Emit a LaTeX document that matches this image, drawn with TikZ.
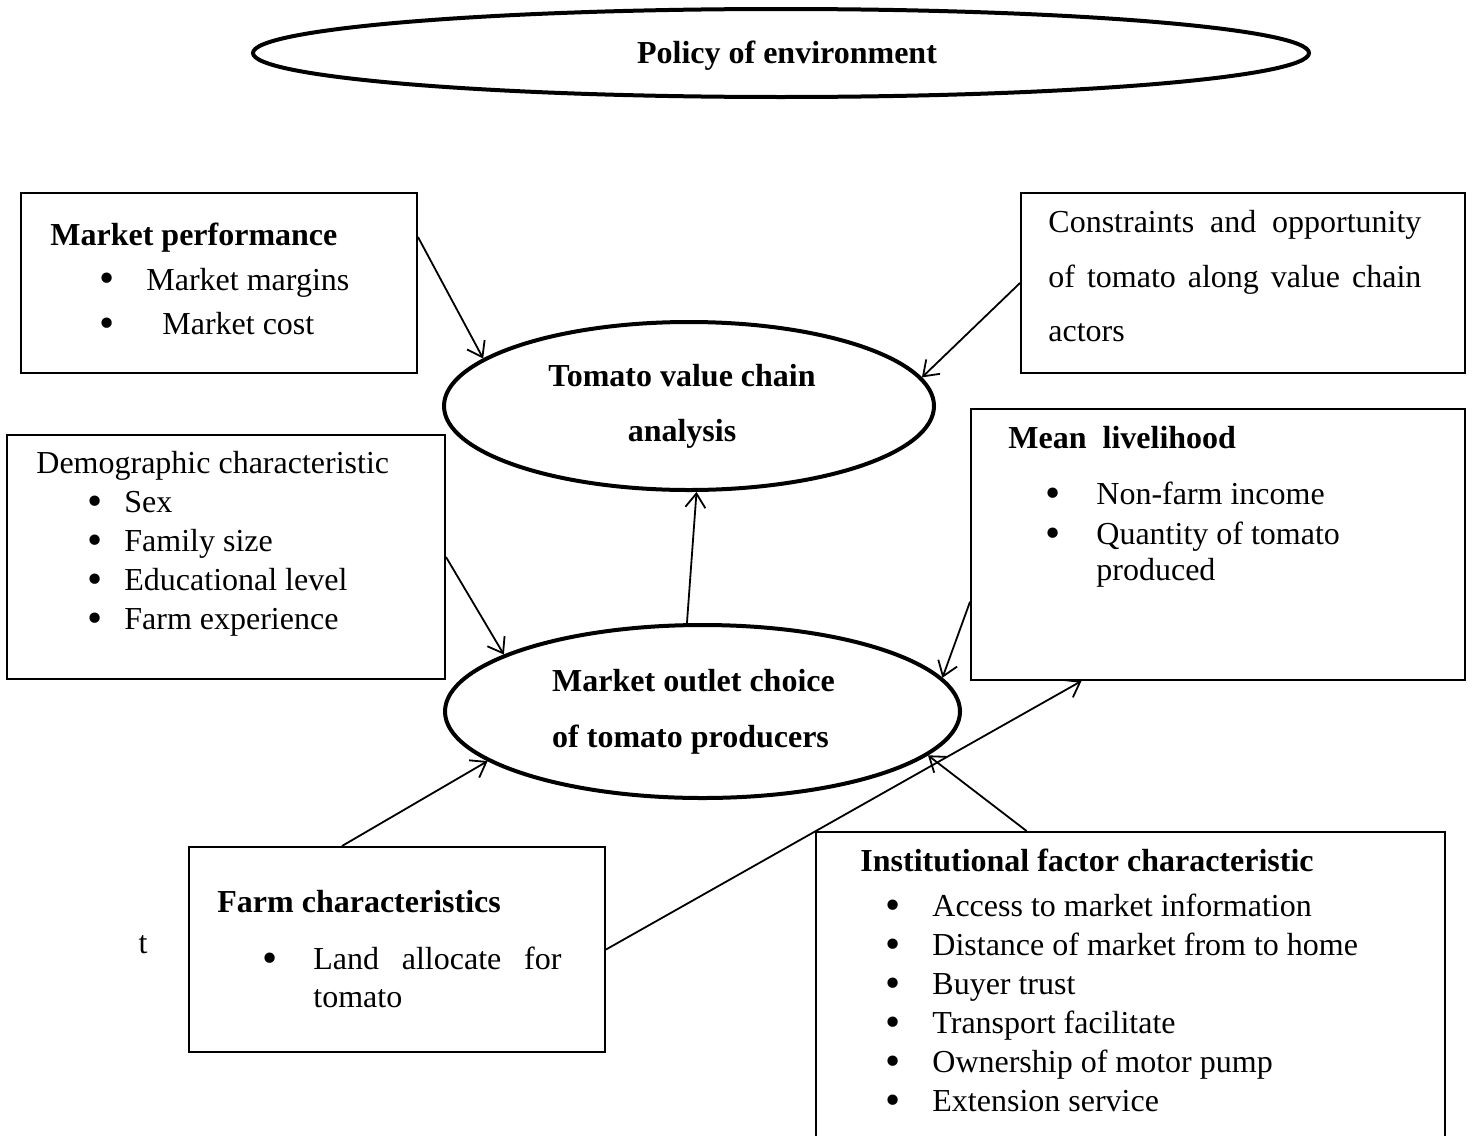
\documentclass[tikz,border=0pt]{standalone}
\usepackage{fontspec}
\setmainfont{Liberation Serif}
\usepackage{graphicx}
\usepackage{tikz}
\usetikzlibrary{shapes.geometric}
\usetikzlibrary{arrows.meta}
\usetikzlibrary{positioning}
\newcommand{\bu}[2]{\makebox[#2][l]{\hspace*{#1}\raisebox{-1.2pt}{\scalebox{1.35}{\textbullet}}}}
\tikzset{
every node/.style={font=\fontsize{16}{19.5}\selectfont},
box/.style={ % Sets the properties for each factor box
draw,
rectangle,
line width=1pt,
inner sep=0pt},
oval/.style={ % Thick ellipses for the main concepts
draw,
ellipse,
line width=2pt,
inner sep=0pt,
font=\bfseries\fontsize{16}{19.5}\selectfont},
txt/.style={anchor=north west, inner sep=0pt, align=left},
link/.style={ % Sets the properties for each connector
draw,
line width=0.9pt,
-{Straight Barb[length=7pt,width=10pt]}}}
\begin{document}
\begin{tikzpicture}[x=0.5pt, y=-0.5pt]
\useasboundingbox (0,0) rectangle (1476,1135);
\node[oval, minimum width=528pt, minimum height=44pt, text height=11pt, text depth=0.5pt] (pe) at (781,53) {\hspace*{6pt}Policy of environment};
\node[oval, minimum width=245pt, minimum height=84pt, align=center] (tvc) at (689,406) {Tomato value chain\hspace*{7pt}\\[8pt]analysis\hspace*{7pt}};
\node[oval, minimum width=257.5pt, minimum height=86.5pt, align=left] (mo) at (702.5,711.5) {Market outlet choice\hspace*{9pt}\\[8.5pt]of tomato producers};

\node[box, minimum width=198pt, minimum height=90pt] (mp) at (219,283) {};
\node[box, minimum width=222pt, minimum height=90pt] (co) at (1243,283) {};
\node[box, minimum width=219pt, minimum height=122pt] (dg) at (226,557) {};
\node[box, minimum width=247pt, minimum height=135.5pt] (ml) at (1218,544.5) {};
\node[box, minimum width=208pt, minimum height=102.5pt] (fc) at (397,949.5) {};
\node[box, minimum width=314.5pt, minimum height=159pt] (ins) at (1130.5,991) {};

\node[txt] (mptext) at (50,218) {\strut\textbf{Market performance}\\[2.75pt]
\bu{24.7pt}{48pt}Market margins\\[2.75pt]
\bu{24.7pt}{56pt}Market cost};
\node[txt] (cotext) at (1048,205) {\strut\makebox[186.5pt][s]{Constraints and opportunity}\\[7.75pt]
\makebox[186.5pt][s]{of tomato along value chain}\\[7.75pt]
actors};
\node[txt] (dgtext) at (36,446) {\strut Demographic characteristic\\
\bu{25.7pt}{44pt}Sex\\
\bu{25.7pt}{44pt}Family size\\
\bu{25.7pt}{44pt}Educational level\\
\bu{25.7pt}{44pt}Farm experience};
\node[txt] (mltext) at (1008,421) {\strut\textbf{Mean\ \ livelihood}\\[8.5pt]
\bu{18.7pt}{44pt}Non-farm income\\[0.5pt]
\bu{18.7pt}{44pt}Quantity of tomato\\[-1.5pt]
\hspace*{44pt}produced};
\node[txt] (fctext) at (217,885) {\strut\textbf{Farm characteristics}\\[9pt]
\bu{22.7pt}{48pt}\makebox[124pt][s]{Land allocate for}\\[-0.5pt]
\hspace*{48pt}tomato};
\node[txt] (instext) at (860,844) {\strut\textbf{Institutional factor characteristic}\\[3pt]
\bu{12.7pt}{36pt}Access to market information\\
\bu{12.7pt}{36pt}Distance of market from to home\\
\bu{12.7pt}{36pt}Buyer trust\\
\bu{12.7pt}{36pt}Transport facilitate\\
\bu{12.7pt}{36pt}Ownership of motor pump\\
\bu{12.7pt}{36pt}Extension service};
\node (stray) at (143,945) {t};

\draw[link] (mp.13) -- (tvc.167);
\draw[link] (co.west) -- (tvc.7);
\draw[link] (mo.100) -- (tvc.-85);
\draw[link] (dg.east) -- (mo.164);
\draw[link] (ml.193) -- (mo.8);
\draw[link] (fc.118) -- (mo.193);
\draw[link] (fc.east) -- (ml.225);
\draw[link] (ins.123) -- (mo.-11);
\end{tikzpicture}
\end{document}
